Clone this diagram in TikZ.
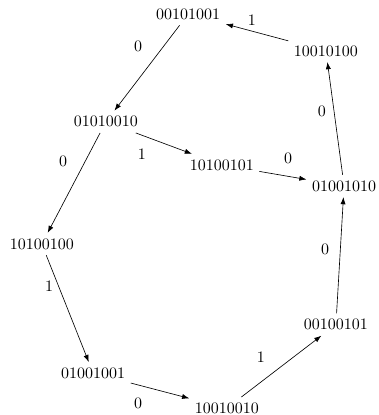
\documentclass[tikz,border=0pt]{standalone}
\usetikzlibrary{arrows.meta, positioning}

\begin{document}
\begin{tikzpicture}[
    every node/.style={font=\normalsize},
    state/.style={inner sep=0.333em},
    lbl/.style={inner sep=1pt},
    arrow/.style={-{Latex[length=4.5pt, width=3.2pt]}}
]
\useasboundingbox (0, 0) rectangle (8.32, 9.13);

% ============ STATES ============
\node[state] (s00101001) at (4.14, 8.82) {00101001};
\node[state] (s01010010) at (2.33, 6.45) {01010010};
\node[state] (s10100101) at (4.88, 5.50) {10100101};
\node[state] (s01001010) at (7.57, 5.04) {01001010};
\node[state] (s10010100) at (7.17, 8.01) {10010100};
\node[state] (s10100100) at (0.92, 3.76) {10100100};
\node[state] (s01001001) at (2.05, 0.92) {01001001};
\node[state] (s10010010) at (4.99, 0.15) {10010010};
\node[state] (s00100101) at (7.39, 1.99) {00100101};

% ============ TRANSITIONS ============
\draw[arrow] (s00101001) -- (s01010010);
\draw[arrow] (s01010010) -- (s10100101);
\draw[arrow] (s01010010) -- (s10100100);
\draw[arrow] (s10100101) -- (s01001010);
\draw[arrow] (s01001010) -- (s10010100);
\draw[arrow] (s10010100) -- (s00101001);
\draw[arrow] (s10100100) -- (s01001001);
\draw[arrow] (s01001001) -- (s10010010);
\draw[arrow] (s10010010) -- (s00100101);
\draw[arrow] (s00100101) -- (s01001010);

% ============ LABELS ============
\node[lbl] (l1) at (3.04, 8.12) {0};
\node[lbl] (l2) at (3.12, 5.74) {1};
\node[lbl] (l3) at (1.39, 5.59) {0};
\node[lbl] (l4) at (6.34, 5.65) {0};
\node[lbl] (l5) at (7.08, 6.67) {0};
\node[lbl] (l6) at (5.54, 8.69) {1};
\node[lbl] (l7) at (1.08, 2.84) {1};
\node[lbl] (l8) at (3.04, 0.26) {0};
\node[lbl] (l9) at (5.74, 1.28) {1};
\node[lbl] (l10) at (7.15, 3.65) {0};

\end{tikzpicture}
\end{document}
